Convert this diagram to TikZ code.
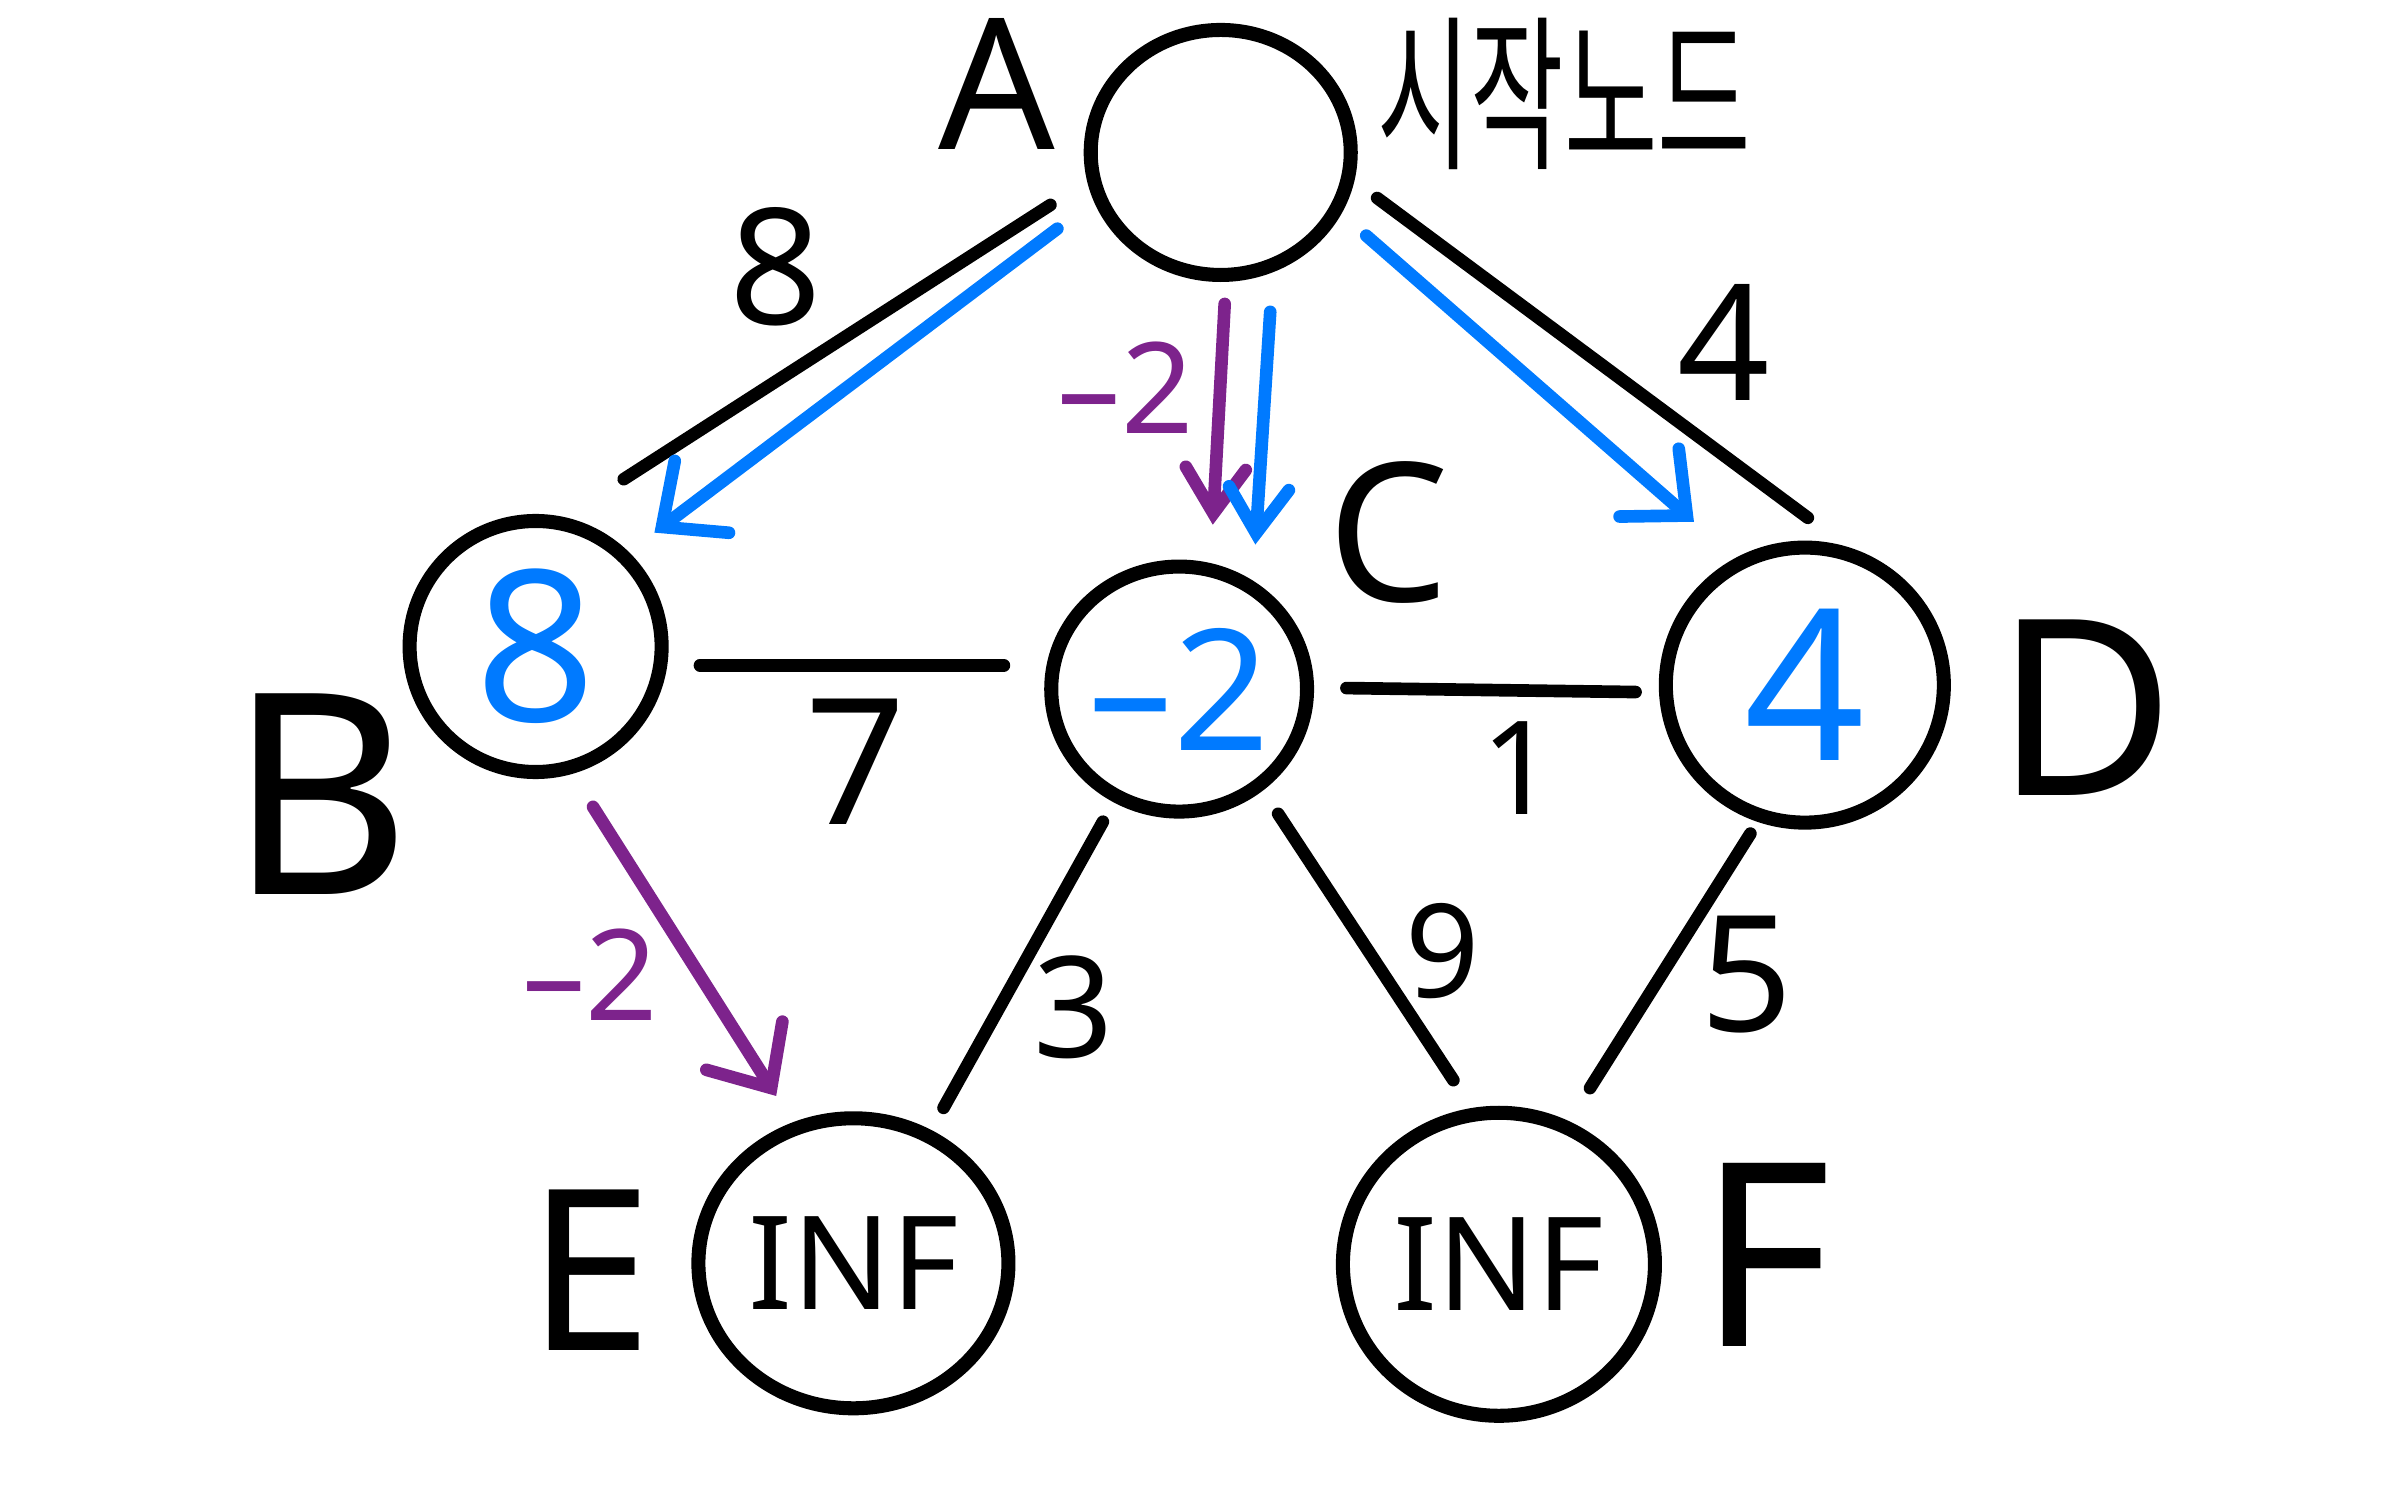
\documentclass[tikz,border=0pt]{standalone}
\usepackage{fontspec}
\setmainfont{Noto Sans}
\newfontfamily\kr{Noto Sans CJK KR}
\usetikzlibrary{shapes.geometric,arrows.meta,calc}
\definecolor{penblue}{RGB}{0,122,255}
\definecolor{penpurple}{RGB}{125,35,140}
\tikzset{vertex style/.style={
		draw=black,
		line width=4pt,
		ellipse,
		inner sep=0pt,
		font=\fontsize{60}{60}\selectfont,
	},
	dist style/.style={
		vertex style,
		text=penblue,
	},
	name style/.style={
		inner sep=0pt,
		font=\fontsize{#1}{#1}\selectfont,
	},
	weight style/.style={
		inner sep=0pt,
		font=\fontsize{#1}{#1}\selectfont,
	},
	edge style/.style={
		draw=black,
		line width=3.6pt,
		line cap=round,
	},
	path style/.style={
		draw=#1,
		line width=3.6pt,
		line cap=round,
		-{Straight Barb[length=5mm,width=9mm,line cap=round]},
	},
	short path style/.style={
		path style=#1,
		-{Straight Barb[length=4.5mm,width=6mm,line cap=round]},
	}
}

\begin{document}
\begin{tikzpicture}[x=0.099mm,y=-0.099mm]
	\useasboundingbox (0,0) rectangle (2410,1506);
	% vertices
	\node[vertex style, minimum width=26mm, minimum height=24.5mm] (A) at (1233,154) {};
	\node[dist style, minimum width=25.2mm, minimum height=25.1mm] (B) at (541,653) {8};
	\node[dist style, minimum width=24.5mm, minimum height=24.5mm, font=\fontsize{48}{48}\selectfont] (C) at (1191,696) {–2};
	\node[dist style, minimum width=27.8mm, minimum height=27.5mm] (D) at (1823,692) {4};
	\node[vertex style, minimum width=31mm, minimum height=29mm, font=\fontsize{37}{37}\selectfont] (E) at (862,1276) {INF};
	\node[vertex style, minimum width=31.2mm, minimum height=30.3mm, font=\fontsize{37}{37}\selectfont] (F) at (1514,1277) {INF};
	
	% names
	\node[name style=52] (Aname) at (1007,85) {A};
	\node[name style=34, font=\kr\fontsize{34}{34}\selectfont, xscale=0.85, yscale=1.4, transform shape] (Start) at (1580,95) {시작노드};
	\node[name style=80] (Bname) at (323,802) {B};
	\node[name style=55] (Cname) at (1403,538) {C};
	\node[name style=70] (Dname) at (2106,715) {D};
	\node[name style=64] (Ename) at (596,1283) {E};
	\node[name style=73] (Fname) at (1783,1268) {F};
	
	% edges
	\draw[edge style] ($(A)+(-172,53)$) -- ($(B)+(89,-169)$);
	\draw[edge style] ($(A)+(158,46)$) -- ($(D)+(3,-169)$);
	\draw[edge style] ($(B)+(166,19)$) -- ($(C)+(-177,-24)$);
	\draw[edge style] ($(C)+(169,-1)$) -- ($(D)+(-171,7)$);
	\draw[edge style] ($(C)+(-77,134)$) -- ($(E)+(91,-157)$);
	\draw[edge style] ($(C)+(100,126)$) -- ($(F)+(-46,-186)$);
	\draw[edge style] ($(D)+(-55,150)$) -- ($(F)+(92,-178)$);
	\draw[short path style=penpurple] ($(A)+(4,153)$) -- ($(C)+(34,-166)$);
	\draw[path style=penpurple] ($(B)+(58,162)$) -- ($(E)+(-78,-169)$);
	\draw[path style=penblue] ($(A)+(-165,77)$) -- ($(B)+(120,-115)$);
	\draw[short path style=penblue] ($(A)+(50,161)$) -- ($(C)+(77,-146)$);
	\draw[path style=penblue] ($(A)+(147,84)$) -- ($(D)+(-112,-165)$);
	
	% weights
	\node[weight style=46] (wAB) at (784,269) {8};
	\node[weight style=36, text=penpurple] (wAC) at (1137,392) {–2};
	\node[weight style=46] (wAD) at (1741,346) {4};
	\node[weight style=50] (wBC) at (864,769) {7};
	\node[weight style=37] (wCD) at (1534,776) {1};
	\node[weight style=36, text=penpurple] (wBE) at (596,984) {–2};
	\node[weight style=40] (wCE) at (1084,1017) {3};
	\node[weight style=37] (wCF) at (1457,961) {9};
	\node[weight style=46] (wDF) at (1764,984) {5};
\end{tikzpicture}
\end{document}
